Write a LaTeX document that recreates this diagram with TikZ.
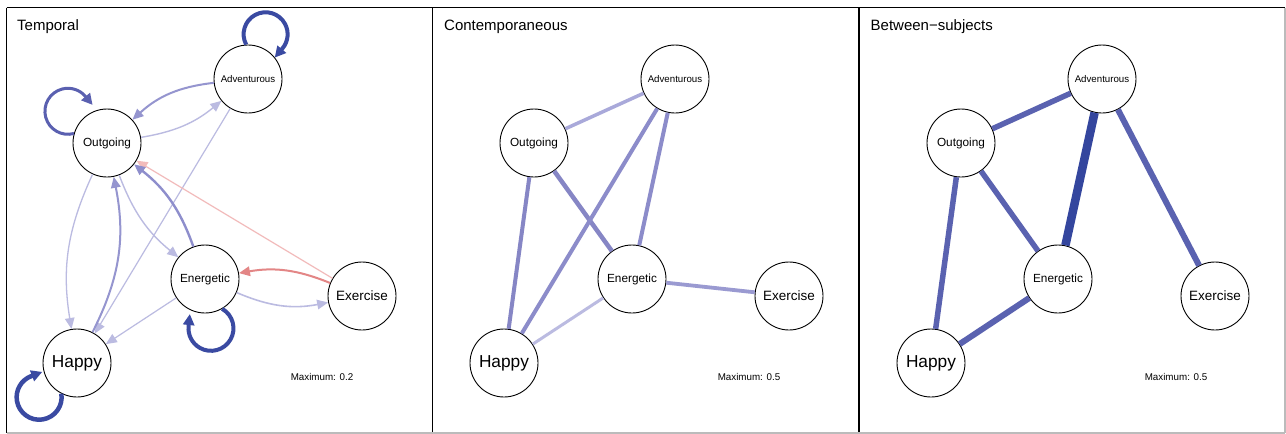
\documentclass[tikz,border=0pt]{standalone}
\usepackage{fontspec}
\setmainfont{Liberation Sans}
\usetikzlibrary{arrows.meta}
\definecolor{dkblue}{HTML}{3A4AA2}
\definecolor{loopmid}{HTML}{5A60B0}
\definecolor{midpur}{HTML}{9595CF}
\definecolor{lav}{HTML}{BBBBE1}
\definecolor{redE}{HTML}{E38686}
\definecolor{pinkE}{HTML}{F2BBBB}
\definecolor{cA}{HTML}{A9A9DA}
\definecolor{cB}{HTML}{8686C5}
\definecolor{cC}{HTML}{8C8CCA}
\definecolor{cD}{HTML}{9A9AD1}
\definecolor{bMid}{HTML}{5A62B0}
\definecolor{bDark}{HTML}{34469E}
\definecolor{frameGray}{HTML}{BBBBBB}
\definecolor{midpurB}{HTML}{8E8ECC}
\begin{document}
\begin{tikzpicture}[x=1pt,y=1pt,
  vnode/.style={circle,draw=black,line width=0.9pt,minimum size=68pt,inner sep=0pt,fill=white},
  fA/.style={font=\fontsize{9.7}{11}\selectfont},
  fO/.style={font=\fontsize{11.8}{13}\selectfont},
  fX/.style={font=\fontsize{13.5}{15}\selectfont},
  fH/.style={font=\fontsize{17.3}{19}\selectfont},
  ttl/.style={anchor=base west,inner sep=0pt,font=\fontsize{15}{17}\selectfont},
  maxlbl/.style={font=\fontsize{9.8}{11}\selectfont},
  arr/.style={-{Triangle[length=11pt,width=9.5pt]}},
  looparr/.style={-{Triangle[length=11pt,width=11pt]}},
  undir/.style={line cap=butt}
]
\useasboundingbox (0,0) rectangle (1286,-434);
\fill[white] (0,0) rectangle (1286,-434);
% frames
\draw[black,line width=1pt] (6.5,-7.5) -- (1285,-7.5);
\draw[black,line width=1.2pt] (6.5,-7.5) -- (6.5,-433);
\draw[black,line width=1.4pt] (432.5,-7.5) -- (432.5,-433);
\draw[black,line width=1.4pt] (859,-7.5) -- (859,-433);
\draw[frameGray,line width=1.2pt] (6.5,-433) -- (1285,-433);
\draw[frameGray,line width=1.2pt] (1285,-7.5) -- (1285,-433);
% titles
\node[ttl] (t1) at (17,-30) {Temporal};
\node[ttl] (t2) at (444,-30) {Contemporaneous};
\node[ttl] (t3) at (870.5,-30) {Between{\char"2212}subjects};
% ---------- panel 1 ----------
\node[vnode,fA] (a1) at (248,-79) {Adventurous};
\node[vnode,fO] (o1) at (107,-143) {Outgoing};
\node[vnode,fO] (e1) at (205,-279) {Energetic};
\node[vnode,fX] (x1) at (362,-296) {Exercise};
\node[vnode,fH] (h1) at (77,-363) {Happy};
\node[maxlbl] (m1) at (322,-377) {Maximum: 0.2};
\draw[arr,lav,line width=1.2pt] (a1) -- (h1);
\draw[arr,lav,line width=1.2pt] (e1) -- (h1);
\draw[arr,pinkE,line width=1.2pt] (x1) -- (o1);
\draw[arr,lav,line width=1.4pt] (o1) to[bend right=15] (a1);
\draw[arr,midpur,line width=2pt] (a1) to[bend right=18] (o1);
\draw[arr,redE,line width=2pt] (x1) to[bend right=16] (e1);
\draw[arr,lav,line width=1.6pt] (e1) to[bend right=17] (x1);
\draw[arr,lav,line width=1.4pt] (o1) to[bend right=15] (e1);
\draw[arr,midpurB,line width=2.4pt] (e1) to[bend right=16] (o1);
\draw[arr,lav,line width=1.3pt] (o1) to[bend right=17] (h1);
\draw[arr,midpur,line width=2pt] (h1) to[bend right=19] (o1);
% loops
\draw[looparr,dkblue,line width=4pt] (a1.93) arc[start angle=208,end angle=-40,radius=22] -- ++(-130:12);
\draw[looparr,loopmid,line width=3pt] (o1.164) arc[start angle=-75,end angle=-320,radius=23] -- ++(-50:11);
\draw[looparr,dkblue,line width=4pt] (e1.300) arc[start angle=60,end angle=-186,radius=22.5] -- ++(84:12);
\draw[looparr,dkblue,line width=4.5pt] (h1.243) arc[start angle=9,end angle=-249,radius=22.5] -- ++(21:12);
% ---------- panel 2 ----------
\node[vnode,fA] (a2) at (675,-79) {Adventurous};
\node[vnode,fO] (o2) at (534,-143) {Outgoing};
\node[vnode,fO] (e2) at (632,-279) {Energetic};
\node[vnode,fX] (x2) at (789,-296) {Exercise};
\node[vnode,fH] (h2) at (504,-363) {Happy};
\node[maxlbl] (m2) at (749,-377) {Maximum: 0.5};
\draw[undir,cA,line width=3.5pt] (o2) -- (a2);
\draw[undir,cB,line width=4pt] (o2) -- (h2);
\draw[undir,cB,line width=4.5pt] (o2) -- (e2);
\draw[undir,cC,line width=4pt] (a2) -- (h2);
\draw[undir,cC,line width=4pt] (a2) -- (e2);
\draw[undir,lav,line width=3pt] (e2) -- (h2);
\draw[undir,cD,line width=3.8pt] (e2) -- (x2);
% ---------- panel 3 ----------
\node[vnode,fA] (a3) at (1102,-79) {Adventurous};
\node[vnode,fO] (o3) at (961,-143) {Outgoing};
\node[vnode,fO] (e3) at (1058,-279) {Energetic};
\node[vnode,fX] (x3) at (1215,-296) {Exercise};
\node[vnode,fH] (h3) at (931,-363) {Happy};
\node[maxlbl] (m3) at (1176,-377) {Maximum: 0.5};
\draw[undir,bMid,line width=5.5pt] (o3) -- (a3);
\draw[undir,bMid,line width=5.5pt] (o3) -- (h3);
\draw[undir,bMid,line width=5.5pt] (o3) -- (e3);
\draw[undir,bDark,line width=8.5pt] (a3) -- (e3);
\draw[undir,bMid,line width=6pt] (a3) -- (x3);
\draw[undir,bMid,line width=6pt] (e3) -- (h3);
\end{tikzpicture}
\end{document}
